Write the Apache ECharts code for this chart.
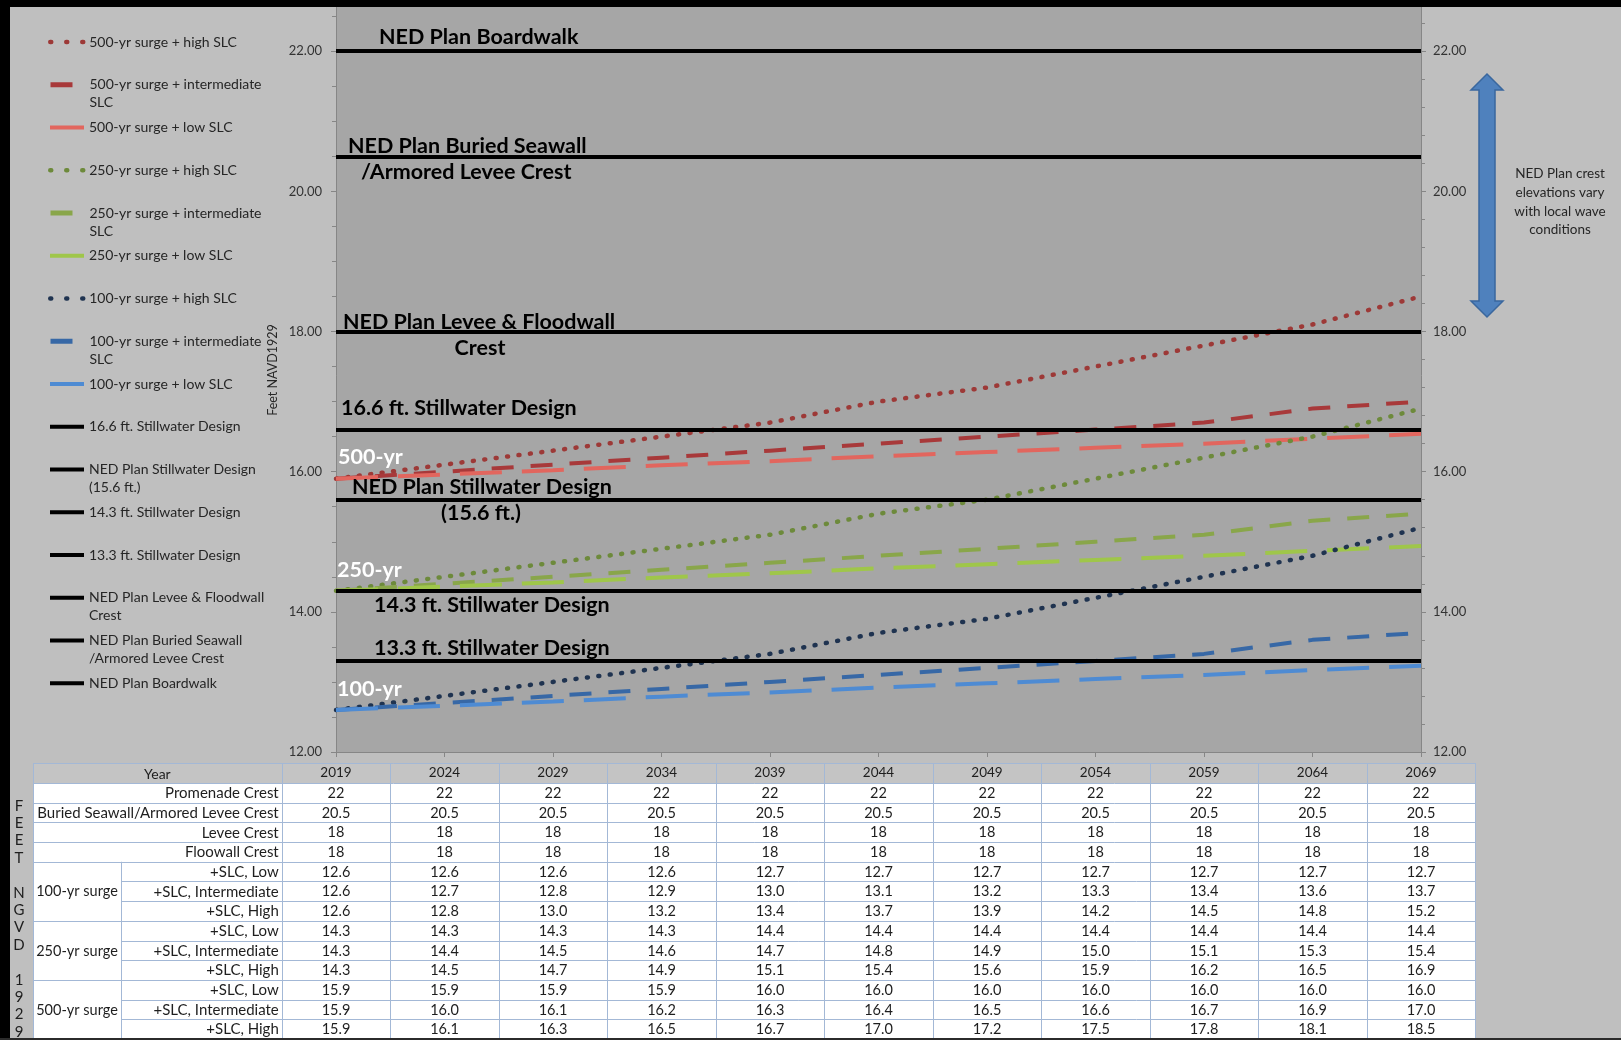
<!DOCTYPE html>
<html>
<head>
<meta charset="utf-8">
<title>NED Plan elevations vs. surge + SLC</title>
<script src="https://cdn.jsdelivr.net/npm/echarts@6.0.0/dist/echarts.min.js"></script>
<style>
html,body{margin:0;padding:0;background:#bfbfbf;}
#chart{width:1621px;height:1040px;}
</style>
</head>
<body>
<div id="chart"></div>
<script>
// ---------------- DATA ----------------
const years = ['2019','2024','2029','2034','2039','2044','2049','2054','2059','2064','2069'];

// Values printed in the data table (feet NGVD 1929)
const promenadeCrest     = [22,22,22,22,22,22,22,22,22,22,22];
const buriedSeawallCrest = [20.5,20.5,20.5,20.5,20.5,20.5,20.5,20.5,20.5,20.5,20.5];
const leveeCrest         = [18,18,18,18,18,18,18,18,18,18,18];
const floodwallCrest     = [18,18,18,18,18,18,18,18,18,18,18];
const surge100Low  = [12.6,12.6,12.6,12.6,12.7,12.7,12.7,12.7,12.7,12.7,12.7];
const surge100Int  = [12.6,12.7,12.8,12.9,13.0,13.1,13.2,13.3,13.4,13.6,13.7];
const surge100High = [12.6,12.8,13.0,13.2,13.4,13.7,13.9,14.2,14.5,14.8,15.2];
const surge250Low  = [14.3,14.3,14.3,14.3,14.4,14.4,14.4,14.4,14.4,14.4,14.4];
const surge250Int  = [14.3,14.4,14.5,14.6,14.7,14.8,14.9,15.0,15.1,15.3,15.4];
const surge250High = [14.3,14.5,14.7,14.9,15.1,15.4,15.6,15.9,16.2,16.5,16.9];
const surge500Low  = [15.9,15.9,15.9,15.9,16.0,16.0,16.0,16.0,16.0,16.0,16.0];
const surge500Int  = [15.9,16.0,16.1,16.2,16.3,16.4,16.5,16.6,16.7,16.9,17.0];
const surge500High = [15.9,16.1,16.3,16.5,16.7,17.0,17.2,17.5,17.8,18.1,18.5];

// Low-SLC curves as actually drawn in the chart
const line100Low = [12.60,12.66,12.72,12.79,12.85,12.92,12.98,13.04,13.10,13.17,13.23];
const line250Low = [14.30,14.36,14.42,14.49,14.55,14.62,14.68,14.74,14.80,14.87,14.94];
const line500Low = [15.90,15.96,16.02,16.09,16.15,16.22,16.28,16.34,16.40,16.47,16.54];

const surgeNames = ['500-yr surge + high SLC','500-yr surge + intermediate SLC','500-yr surge + low SLC',
                    '250-yr surge + high SLC','250-yr surge + intermediate SLC','250-yr surge + low SLC',
                    '100-yr surge + high SLC','100-yr surge + intermediate SLC','100-yr surge + low SLC'];
const surgeLines = [surge500High, surge500Int, line500Low, surge250High, surge250Int, line250Low, surge100High, surge100Int, line100Low];

const levelNames  = ['16.6 ft. Stillwater Design','NED Plan Stillwater Design (15.6 ft.)','14.3 ft. Stillwater Design',
                     '13.3 ft. Stillwater Design','NED Plan Levee & Floodwall Crest','NED Plan Buried Seawall /Armored Levee Crest',
                     'NED Plan Boardwalk'];
const levelValues = [16.6, 15.6, 14.3, 13.3, 18, 20.5, 22];

const legendLabels = ['500-yr surge + high SLC','500-yr surge + intermediate\nSLC','500-yr surge + low SLC',
                      '250-yr surge + high SLC','250-yr surge + intermediate\nSLC','250-yr surge + low SLC',
                      '100-yr surge + high SLC','100-yr surge + intermediate\nSLC','100-yr surge + low SLC',
                      '16.6 ft. Stillwater Design','NED Plan Stillwater Design\n(15.6 ft.)','14.3 ft. Stillwater Design',
                      '13.3 ft. Stillwater Design','NED Plan Levee & Floodwall\nCrest','NED Plan Buried Seawall\n/Armored Levee Crest',
                      'NED Plan Boardwalk'];

const tableRowLabels = ['Promenade Crest','Buried Seawall/Armored Levee Crest','Levee Crest','Floowall Crest'];
const surgeGroups = ['100-yr surge','250-yr surge','500-yr surge'];
const slcLabels = ['+SLC, Low','+SLC, Intermediate','+SLC, High'];
const tableRows = [promenadeCrest, buriedSeawallCrest, leveeCrest, floodwallCrest,
                   surge100Low, surge100Int, surge100High, surge250Low, surge250Int, surge250High,
                   surge500Low, surge500Int, surge500High];

// ---------------- STYLE ----------------
const FONT = 'Lato, "Open Sans", "Noto Sans", sans-serif';
const surgeColors = ['#9d3937','#a8393a','#e2665e','#6d8a3b','#89a64a','#9fc64a','#1f3350','#3768a6','#4e8bd3'];
const surgeKinds  = ['dot','dash','long','dot','dash','long','dot','dash','long'];
const plotStyle = {
  dot:  {type:[1,10.5], width:4.5, cap:'round'},
  dash: {type:[22,17], width:4, cap:'butt'},
  long: {type:[42,20], width:4, cap:'butt'}
};
const legendStyle = {
  dot:  {type:[1,15], width:4.5, cap:'round'},
  dash: {type:[22,40], width:5, cap:'butt'},
  long: {type:'solid', width:4, cap:'butt'},
  level:{type:'solid', width:4, cap:'butt'}
};

const series = surgeNames.map((name, i) => ({
  name, type:'line', data: surgeLines[i], symbol:'none', silent:true, z:2,
  color: surgeColors[i],
  itemStyle:{color: surgeColors[i]},
  lineStyle: Object.assign({color: surgeColors[i]}, plotStyle[surgeKinds[i]])
}));
levelNames.forEach((name, i) => {
  series.push({
    name, type:'line', data: [], symbol:'none', silent:true, color:'#000', z:3,
    itemStyle:{color:'#000'},
    lineStyle:{color:'#000', width:4, type:'solid'},
    markLine:{
      silent:true, symbol:['none','none'], animation:false,
      label:{show:false},
      lineStyle:{color:'#000', width:4, type:'solid'},
      emphasis:{disabled:true},
      data:[{yAxis: levelValues[i]}]
    }
  });
});

const allNames = surgeNames.concat(levelNames);
const legendKinds = surgeKinds.concat(levelNames.map(() => 'level'));
const LEG_Y0 = 42, LEG_STEP = 42.75, LEG_LH = 18;
const legends = allNames.map((name, i) => {
  const label = legendLabels[i];
  const n = label.split('\n').length;
  const text = n > 1 ? '\n' + label : label;
  const h = (n > 1 ? n + 1 : 1) * LEG_LH;
  return {
    data:[name], left:48, top: LEG_Y0 + i * LEG_STEP - h / 2,
    orient:'vertical', padding:0, itemWidth:34, itemHeight:6, selectedMode:false,
    formatter: () => text,
    textStyle:{fontFamily:FONT, fontSize:14, color:'#262626', lineHeight:LEG_LH},
    itemStyle:{opacity:0},
    lineStyle: legendStyle[legendKinds[i]]
  };
});

const axisGrey = '#868686';
const yAxisCommon = {
  type:'value', min:12, max:24, interval:2,
  axisLine:{show:true, lineStyle:{color:axisGrey, width:1}},
  axisTick:{show:true, length:5, lineStyle:{color:axisGrey}},
  splitLine:{show:false},
  axisLabel:{formatter: v => v.toFixed(2), color:'#333', fontFamily:FONT, fontSize:13}
};

const option = {
  animation:false,
  backgroundColor:'#bfbfbf',
  grid:{left:336, right:200, top:-89, bottom:288, show:true, backgroundColor:'#a6a6a6', borderWidth:0,
        containLabel:false, outerBoundsMode:'none'},
  xAxis:{
    type:'category', data:years, boundaryGap:false,
    axisLine:{show:true, lineStyle:{color:axisGrey}},
    axisTick:{show:true, interval:0, length:5, lineStyle:{color:axisGrey}},
    axisLabel:{show:false}, splitLine:{show:false}
  },
  yAxis:[
    Object.assign({}, yAxisCommon, {position:'left',
      minorTick:{show:true, splitNumber:4, length:4, lineStyle:{color:axisGrey}},
      axisLabel:Object.assign({}, yAxisCommon.axisLabel, {margin:14})}),
    Object.assign({}, yAxisCommon, {position:'right',
      minorTick:{show:true, splitNumber:5, length:4, lineStyle:{color:axisGrey}},
      axisLabel:Object.assign({}, yAxisCommon.axisLabel, {margin:12})})
  ],
  legend: legends,
  series
};

const chart = echarts.init(document.getElementById('chart'));
chart.setOption(option);

// ---------------- ANNOTATIONS / TABLE ----------------
const els = [];
function txt(text, x, y, o) {
  o = o || {};
  els.push({type:'text', x, y, z:o.z || 50, rotation:o.rotation || 0, silent:true,
    style:{text, fill:o.color || '#000', fontFamily:FONT, fontSize:o.size || 13, fontWeight:o.weight || 'normal',
      align:o.align || 'left', verticalAlign:o.valign || 'middle', lineHeight:o.lh}});
}

// labels on the plot
const notes = [
  ['NED Plan Boardwalk', 379, 37, 'left', '#000'],
  ['NED Plan Buried Seawall', 348, 146, 'left', '#000'],
  ['/Armored Levee Crest', 361, 172, 'left', '#000'],
  ['NED Plan Levee & Floodwall', 343, 322, 'left', '#000'],
  ['Crest', 480, 348, 'center', '#000'],
  ['16.6 ft. Stillwater Design', 341, 408, 'left', '#000'],
  ['NED Plan Stillwater Design', 352, 487, 'left', '#000'],
  ['(15.6 ft.)', 481, 513, 'center', '#000'],
  ['14.3 ft. Stillwater Design', 374, 605, 'left', '#000'],
  ['13.3 ft. Stillwater Design', 374, 648, 'left', '#000'],
  ['500-yr', 338, 457, 'left', '#ffffff'],
  ['250-yr', 337, 570, 'left', '#ffffff'],
  ['100-yr', 337, 689, 'left', '#ffffff']
];
notes.forEach(n => txt(n[0], n[1], n[2], {align:n[3], color:n[4], size:21.5, weight:'bold', z:60}));

// axis title
txt('Feet NAVD1929', 273, 370, {align:'center', rotation:Math.PI/2, size:12.5, color:'#262626'});

// right-side arrow and note
els.push({type:'polygon', z:40, silent:true,
  shape:{points:[[1487,74],[1503,90],[1495,90],[1495,301],[1503,301],[1487,317],[1471,301],[1479,301],[1479,90],[1471,90]]},
  style:{fill:'#4f81bd', stroke:'#3a679e', lineWidth:1.5}});
txt('NED Plan crest\nelevations vary\nwith local wave\nconditions', 1560, 202, {align:'center', size:13.5, color:'#262626', lh:18.7});

// data table
const colX = years.map((_, i) => chart.convertToPixel({xAxisIndex:0}, i));
const half = (colX[1] - colX[0]) / 2;
const tL = 33, gR = 121, lR = colX[0] - half, tR = colX[colX.length - 1] + half;
const hTop = 763, hBot = 783, bottom = 1039, rowH = (bottom - hBot) / 13;
const border = '#a3b8d6';
els.push({type:'rect', z:10, silent:true, shape:{x:tL, y:hTop, width:tR - tL, height:hBot - hTop}, style:{fill:'#c4c4c4'}});
els.push({type:'rect', z:10, silent:true, shape:{x:tL, y:hBot, width:tR - tL, height:bottom - hBot}, style:{fill:'#ffffff'}});
function hl(x1, x2, y) { const yy = Math.round(y) + 0.5; els.push({type:'line', z:11, silent:true, shape:{x1, y1:yy, x2, y2:yy}, style:{stroke:border, lineWidth:1}}); }
function vl(x, y1, y2) { const xx = Math.round(x) + 0.5; els.push({type:'line', z:11, silent:true, shape:{x1:xx, y1, x2:xx, y2}, style:{stroke:border, lineWidth:1}}); }
hl(tL, tR, hTop); hl(tL, tR, hBot);
for (let k = 1; k <= 13; k++) {
  const inGroup = k > 4 && (k - 4) % 3 !== 0;
  hl(inGroup ? gR : tL, tR, hBot + k * rowH);
}
vl(tL, hTop, bottom); vl(lR, hTop, bottom);
colX.forEach(x => vl(x + half, hTop, bottom));
vl(gR, hBot + 4 * rowH, bottom);

txt('Year', (tL + lR) / 2, (hTop + hBot) / 2 + 1, {align:'center', size:14, color:'#1e1e1e', z:20});
years.forEach((y, i) => txt(y, colX[i], (hTop + hBot) / 2, {align:'center', size:13.5, color:'#1e1e1e', z:20}));
tableRows.forEach((row, r) => {
  const cy = hBot + (r + 0.5) * rowH + 0.5;
  const label = r < 4 ? tableRowLabels[r] : slcLabels[(r - 4) % 3];
  txt(label, lR - 3, cy, {align:'right', size:15, color:'#1e1e1e', z:20});
  row.forEach((v, i) => txt(r < 4 ? String(v) : v.toFixed(1), colX[i], cy, {align:'center', size:14.5, color:'#1e1e1e', z:20}));
});
surgeGroups.forEach((g, j) => txt(g, (tL + gR) / 2, hBot + (4 + j * 3 + 1.5) * rowH + 0.5, {align:'center', size:14.5, color:'#1e1e1e', z:20}));
txt('F\nE\nE\nT\n\nN\nG\nV\nD\n\n1\n9\n2\n9', 19, 797, {align:'center', valign:'top', size:15, color:'#1e1e1e', lh:17.4, z:20});

// frame
els.push({type:'rect', z:200, silent:true, shape:{x:0, y:0, width:1621, height:7}, style:{fill:'#000'}});
els.push({type:'rect', z:200, silent:true, shape:{x:0, y:0, width:10, height:1040}, style:{fill:'#000'}});
els.push({type:'rect', z:200, silent:true, shape:{x:0, y:1038, width:1621, height:2}, style:{fill:'#2b2b2b'}});

chart.setOption({graphic:{elements:els}});
</script>
</body>
</html>
